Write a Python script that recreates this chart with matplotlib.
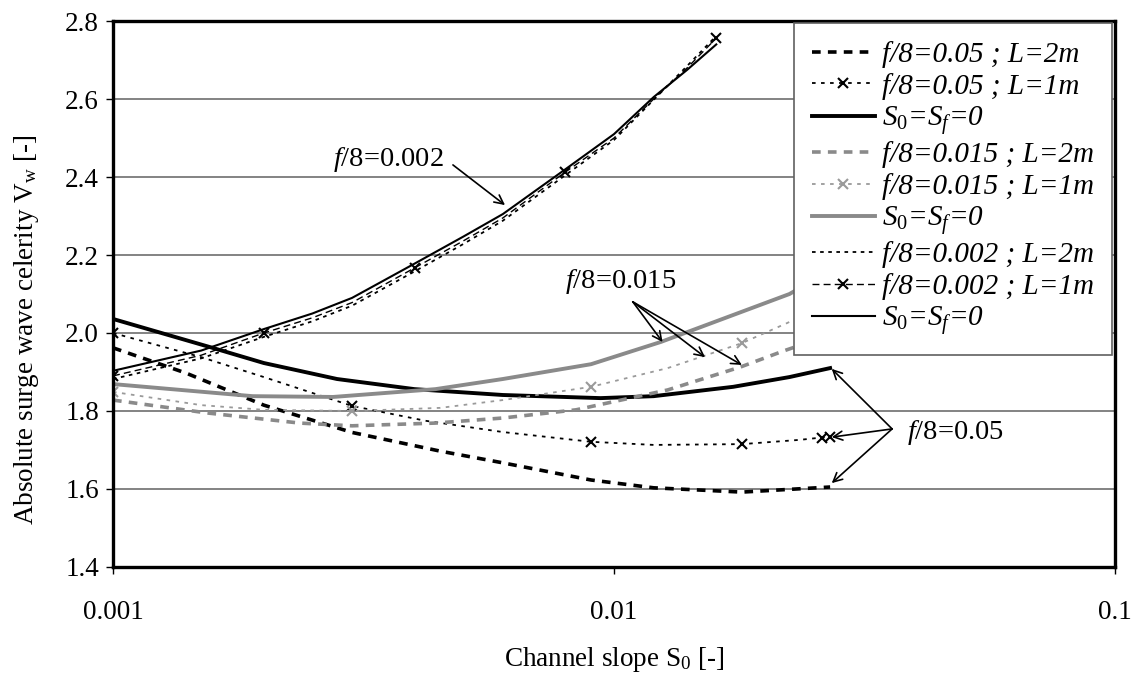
import numpy as np
import matplotlib
matplotlib.use("Agg")
import matplotlib.pyplot as plt
from matplotlib.ticker import FixedLocator, FixedFormatter

plt.rcParams['font.family'] = ['Liberation Serif', 'DejaVu Serif']
plt.rcParams['mathtext.fontset'] = 'custom'
plt.rcParams['mathtext.rm'] = 'Liberation Serif'
plt.rcParams['mathtext.it'] = 'Liberation Serif:italic'

# f/8 = 0.05
x_05_L2 = [0.001, 0.0014, 0.002, 0.003, 0.0045, 0.006, 0.009, 0.012, 0.018, 0.027]
y_05_L2 = [1.962, 1.897, 1.815, 1.745, 1.697, 1.667, 1.623, 1.603, 1.592, 1.605]
x_05_L1 = [0.001, 0.0015, 0.002, 0.003, 0.0042, 0.006, 0.009, 0.012, 0.018, 0.0235, 0.026, 0.027]
y_05_L1 = [2.000, 1.938, 1.887, 1.813, 1.775, 1.746, 1.721, 1.713, 1.715, 1.726, 1.732, 1.734]
mk_05_L1 = [0, 3, 6, 8, 10, 11]
x_05_S0 = [0.001, 0.00156, 0.002, 0.0028, 0.004, 0.006, 0.0094, 0.012, 0.0173, 0.0224, 0.027]
y_05_S0 = [2.036, 1.964, 1.923, 1.882, 1.856, 1.841, 1.833, 1.838, 1.862, 1.887, 1.910]

# f/8 = 0.015
x_015_L2 = [0.001, 0.00154, 0.00236, 0.003, 0.0044, 0.006, 0.0084, 0.0128, 0.0179, 0.0218, 0.027]
y_015_L2 = [1.828, 1.795, 1.769, 1.762, 1.769, 1.782, 1.803, 1.854, 1.913, 1.954, 1.995]
x_015_L1 = [0.001, 0.0015, 0.002, 0.003, 0.0045, 0.006, 0.009, 0.0128, 0.018, 0.0222, 0.027]
y_015_L1 = [1.849, 1.815, 1.803, 1.800, 1.808, 1.828, 1.862, 1.910, 1.974, 2.026, 2.080]
mk_015_L1 = [0, 3, 6, 8, 10]
x_015_S0 = [0.001, 0.0019, 0.00275, 0.0044, 0.006, 0.009, 0.0124, 0.0224, 0.027]
y_015_S0 = [1.869, 1.838, 1.836, 1.856, 1.882, 1.920, 1.977, 2.100, 2.160]

# f/8 = 0.002
x_002 = [0.001, 0.0015, 0.002, 0.0025, 0.003, 0.004, 0.005, 0.006, 0.008, 0.01, 0.012, 0.014, 0.016]
y_002_L2 = [1.882, 1.935, 1.990, 2.030, 2.070, 2.158, 2.228, 2.288, 2.405, 2.495, 2.598, 2.685, 2.762]
y_002_L1 = [1.890, 1.943, 2.000, 2.039, 2.078, 2.167, 2.236, 2.295, 2.413, 2.500, 2.600, 2.680, 2.756]
mk_002_L1 = [0, 2, 5, 8, 12]
y_002_S0 = [1.903, 1.955, 2.010, 2.050, 2.090, 2.178, 2.247, 2.305, 2.420, 2.510, 2.605, 2.675, 2.740]

y_ticks = [1.4, 1.6, 1.8, 2.0, 2.2, 2.4, 2.6, 2.8]
x_ticks = [0.001, 0.01, 0.1]
x_tick_labels = ['0.001', '0.01', '0.1']

grey = '#8a8a8a'
lgrey = '#9a9a9a'
s0_label = r'$S_{\mathit{0}}$=$S_f$=0'

fig = plt.figure(figsize=(11.38, 6.74), dpi=100)
ax = fig.add_axes([0.0993, 0.1588, 0.8805, 0.8100])

ax.plot(x_05_L2, y_05_L2, color='black', lw=2.6, ls=(0, (2.4, 2.0)), label='f/8=0.05 ; L=2m')
ax.plot(x_05_L1, y_05_L1, color='black', lw=1.3, ls=(0, (2, 3)), marker='x', ms=7, mew=1.5,
        markevery=mk_05_L1, label='f/8=0.05 ; L=1m')
ax.plot(x_05_S0, y_05_S0, color='black', lw=2.8, label=s0_label)

ax.plot(x_015_L2, y_015_L2, color=grey, lw=2.6, ls=(0, (2.4, 2.0)), label='f/8=0.015 ; L=2m')
ax.plot(x_015_L1, y_015_L1, color=lgrey, lw=1.3, ls=(0, (2, 3)), marker='x', ms=7, mew=1.5,
        markevery=mk_015_L1, label='f/8=0.015 ; L=1m')
ax.plot(x_015_S0, y_015_S0, color=grey, lw=2.8, label=s0_label)

ax.plot(x_002, y_002_L2, color='black', lw=1.3, ls=(0, (2, 2.5)), label='f/8=0.002 ; L=2m')
ax.plot(x_002, y_002_L1, color='black', lw=1.0, ls=(0, (5, 3)), marker='x', ms=7, mew=1.5,
        markevery=mk_002_L1, label='f/8=0.002 ; L=1m')
ax.plot(x_002, y_002_S0, color='black', lw=1.5, label=s0_label)

ax.set_xscale('log')
ax.set_xlim(0.001, 0.1)
ax.set_ylim(1.4, 2.8)
ax.xaxis.set_major_locator(FixedLocator(x_ticks))
ax.xaxis.set_major_formatter(FixedFormatter(x_tick_labels))
ax.xaxis.set_minor_locator(FixedLocator([]))
ax.set_yticks(y_ticks)
ax.set_yticklabels([f'{v:.1f}' for v in y_ticks])
ax.yaxis.grid(True, color='#7a7a7a', lw=1.3)
ax.set_axisbelow(True)
ax.tick_params(axis='both', direction='out', length=5, width=1, labelsize=19.5)
ax.tick_params(axis='x', pad=19)
ax.tick_params(axis='y', pad=5)
for sp in ax.spines.values():
    sp.set_linewidth(2.4)
    sp.set_color('black')

ax.set_xlabel(r'Channel slope S$_\mathregular{0}$ [-]', fontsize=19.5, labelpad=14)
ax.set_ylabel(r'Absolute surge wave celerity V$_\mathregular{w}$ [-]', fontsize=19.5)
ax.yaxis.set_label_coords(-0.072, 0.434)

leg = ax.legend(loc='upper right', bbox_to_anchor=(0.997, 0.996), borderaxespad=0,
                prop={'family': 'Liberation Serif', 'style': 'italic', 'size': 21},
                labelspacing=0.15, handlelength=2.15, handletextpad=0.25,
                fancybox=False, framealpha=1, edgecolor='#606060', borderpad=0.62)
leg.get_frame().set_linewidth(1.2)

arrow = dict(arrowstyle='->', color='black', lw=1.2, mutation_scale=16, shrinkA=0, shrinkB=0)

ax.text(0.00355, 2.444, r'$f$/8=0.002', fontsize=20.5, ha='center', va='center')
ax.annotate('', xy=(0.00606, 2.328), xytext=(0.00477, 2.431), arrowprops=arrow)

ax.text(0.0103, 2.131, r'$f$/8=0.015', fontsize=20.5, ha='center', va='center')
for tip in [(0.0125, 1.977), (0.0152, 1.938), (0.0180, 1.918)]:
    ax.annotate('', xy=tip, xytext=(0.0109, 2.08), arrowprops=arrow)

ax.text(0.048, 1.744, r'$f$/8=0.05', fontsize=20.5, ha='center', va='center')
for tip in [(0.0272, 1.908), (0.0272, 1.733), (0.0272, 1.615)]:
    ax.annotate('', xy=tip, xytext=(0.0359, 1.754), arrowprops=arrow)

fig.savefig('out.png', dpi=100)
